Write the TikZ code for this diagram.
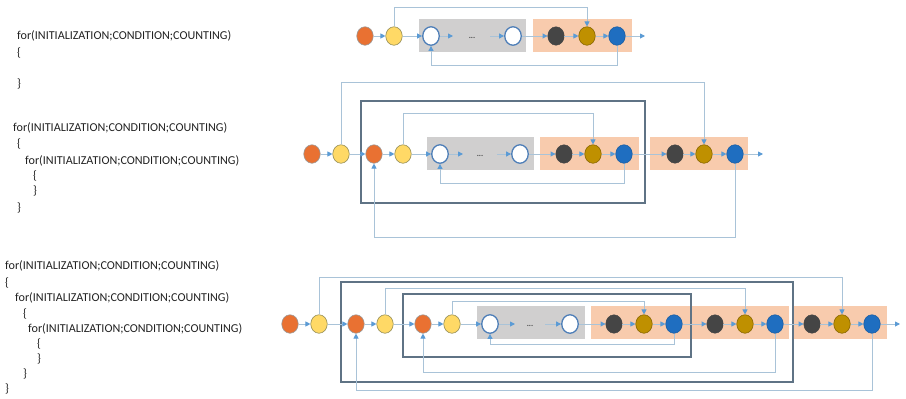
\documentclass[tikz,border=0pt]{standalone}
\usepackage{fontspec}
\setmainfont{Carlito}
\usetikzlibrary{arrows.meta,shapes.geometric}
\definecolor{corange}{HTML}{E97132}
\definecolor{cyellow}{HTML}{FFD966}
\definecolor{cgold}{HTML}{BF9000}
\definecolor{cdark}{HTML}{454545}
\definecolor{cblue}{HTML}{1F6EC0}
\definecolor{cwb}{HTML}{4F7FB8}
\definecolor{grayb}{HTML}{D0CFCF}
\definecolor{orangeb}{HTML}{F8CBAD}
\definecolor{linec}{HTML}{A9C3D8}
\definecolor{arrowc}{HTML}{5B9BD5}
\definecolor{framec}{HTML}{5F7385}
\definecolor{textc}{HTML}{222222}
\tikzset{
  nd/.style={ellipse, minimum width=16.5pt, minimum height=18.5pt, inner sep=0pt},
  co/.style={nd, fill=corange, draw=gray!80, line width=0.6pt},
  cy/.style={nd, fill=cyellow, draw=gray!60!olive, line width=0.6pt},
  cw/.style={nd, fill=white, draw=cwb, line width=1.3pt},
  cd/.style={nd, fill=cdark, draw=cdark},
  cg/.style={nd, fill=cgold, draw=cgold!70!black, line width=0.6pt},
  cb/.style={nd, fill=cblue, draw=cblue!85!black, line width=0.6pt},
  fl/.style={draw=linec, line width=0.9pt, -{Triangle[length=5pt,width=5pt,color=arrowc]}},
  fr/.style={draw=framec, line width=1.4pt},
  gbox/.style={fill=grayb},
  obox/.style={fill=orangeb},
  txt/.style={anchor=base west, inner sep=0pt, font=\fontsize{12.1}{14}\selectfont, text=textc},
  dotsn/.style={inner sep=0pt, font=\fontsize{8}{9}\selectfont\bfseries, text=cdark}
}
\begin{document}
\begin{tikzpicture}[x=1pt,y=-1pt]
\useasboundingbox[fill=white] (0,0) rectangle (906,399);

% ---------- texts ----------
\node[txt] (t1a) at (17,39) {for(INITIALIZATION;CONDITION;COUNTING)};
\node[txt] (t1b) at (17,56) {\{};
\node[txt] (t1c) at (17,87) {\}};

\node[txt] (t2a) at (13,131) {for(INITIALIZATION;CONDITION;COUNTING)};
\node[txt] (t2b) at (17,147) {\{};
\node[txt] (t2c) at (25,164) {for(INITIALIZATION;CONDITION;COUNTING)};
\node[txt] (t2d) at (33,179) {\{};
\node[txt] (t2e) at (33,194) {\}};
\node[txt] (t2f) at (17,211) {\}};

\node[txt] (t3a) at (5,269) {for(INITIALIZATION;CONDITION;COUNTING)};
\node[txt] (t3b) at (5,286) {\{};
\node[txt] (t3c) at (15,301) {for(INITIALIZATION;CONDITION;COUNTING)};
\node[txt] (t3d) at (23,317) {\{};
\node[txt] (t3e) at (28,332) {for(INITIALIZATION;CONDITION;COUNTING)};
\node[txt] (t3f) at (37,347) {\{};
\node[txt] (t3g) at (37,362) {\}};
\node[txt] (t3h) at (23,377) {\}};
\node[txt] (t3i) at (5,392) {\}};

% ---------- boxes ----------
\fill[gbox] (419,19) rectangle (526,52);
\fill[obox] (533,19) rectangle (632,52);

\fill[gbox] (427,137) rectangle (534,170);
\fill[obox] (540,137) rectangle (639,170);
\fill[obox] (650,137) rectangle (748,170);

\fill[gbox] (477,306) rectangle (585,339);
\fill[obox] (591,306) rectangle (789,339);
\fill[obox] (793,306) rectangle (887,339);

% ---------- frames ----------
\draw[fr] (361,101) rectangle (645,203);
\draw[fr] (403,294) rectangle (691,357);
\draw[fr] (341,282) rectangle (793,382);

% ================= ROW 1 =================
\node[co] (ao) at (365,36) {};
\node[cy] (ay) at (394,36) {};
\node[cw] (aw1) at (431,36) {};
\node[cw] (aw2) at (513,36) {};
\node[cd] (ad) at (556,36) {};
\node[cg] (ag) at (587,36) {};
\node[cb] (ab) at (617,36) {};
\node[dotsn] (adots) at (472,38) {...};
\coordinate (ae1) at (453,36);
\coordinate (as2) at (490,36);
\coordinate (aend) at (645,36);
\coordinate (atop) at (0,7);
\coordinate (abot) at (0,65);
\draw[fl] (ao) -- (ay);
\draw[fl] (ay) -- (aw1);
\draw[fl] (aw1) -- (ae1);
\draw[fl] (as2) -- (aw2);
\draw[fl] (aw2) -- (ad);
\draw[fl] (ad) -- (ag);
\draw[fl] (ag) -- (ab);
\draw[fl] (ab) -- (aend);
\draw[fl] (ay.north) -- (ay.north |- atop) -| (ag.north);
\draw[fl] (ab.south) -- (ab.south |- abot) -| (aw1.south);

% ================= ROW 2 =================
\node[co] (bo1) at (312,154) {};
\node[cy] (by1) at (341,154) {};
\node[co] (bo2) at (374,154) {};
\node[cy] (by2) at (403,154) {};
\node[cw] (bw1) at (440,154) {};
\node[cw] (bw2) at (520,154) {};
\node[cd] (bd1) at (564,154) {};
\node[cg] (bg1) at (593,154) {};
\node[cb] (bb1) at (624,154) {};
\node[cd] (bd2) at (675,154) {};
\node[cg] (bg2) at (704,154) {};
\node[cb] (bb2) at (735,154) {};
\node[dotsn] (bdots) at (480,156) {...};
\coordinate (be1) at (463,154);
\coordinate (bs2) at (497,154);
\coordinate (bend) at (763,154);
\coordinate (btop1) at (0,113);
\coordinate (bbot1) at (0,183);
\coordinate (btop2) at (0,82);
\coordinate (bbot2) at (0,237);
\draw[fl] (bo1) -- (by1);
\draw[fl] (by1) -- (bo2);
\draw[fl] (bo2) -- (by2);
\draw[fl] (by2) -- (bw1);
\draw[fl] (bw1) -- (be1);
\draw[fl] (bs2) -- (bw2);
\draw[fl] (bw2) -- (bd1);
\draw[fl] (bd1) -- (bg1);
\draw[fl] (bg1) -- (bb1);
\draw[fl] (bb1) -- (bd2);
\draw[fl] (bd2) -- (bg2);
\draw[fl] (bg2) -- (bb2);
\draw[fl] (bb2) -- (bend);
\draw[fl] (by2.north) -- (by2.north |- btop1) -| (bg1.north);
\draw[fl] (bb1.south) -- (bb1.south |- bbot1) -| (bw1.south);
\draw[fl] (by1.north) -- (by1.north |- btop2) -| (bg2.north);
\draw[fl] (bb2.south) -- (bb2.south |- bbot2) -| (bo2.south);

% ================= ROW 3 =================
\node[co] (co1) at (290,324) {};
\node[cy] (cy1) at (319,324) {};
\node[co] (co2) at (356,324) {};
\node[cy] (cy2) at (385,324) {};
\node[co] (co3) at (423,324) {};
\node[cy] (cy3) at (452,324) {};
\node[cw] (cw1) at (490,324) {};
\node[cw] (cw2) at (570,324) {};
\node[cd] (cd1) at (614,324) {};
\node[cg] (cg1) at (644,324) {};
\node[cb] (cb1) at (674,324) {};
\node[cd] (cd2) at (715,324) {};
\node[cg] (cg2) at (745,324) {};
\node[cb] (cb2) at (775,324) {};
\node[cd] (cd3) at (812,324) {};
\node[cg] (cg3) at (842,324) {};
\node[cb] (cb3) at (872,324) {};
\node[dotsn] (cdots) at (530,326) {...};
\coordinate (ce1) at (515,324);
\coordinate (cs2) at (545,324);
\coordinate (cend) at (900,324);
\coordinate (ctop1) at (0,277);
\coordinate (cbot1) at (0,390);
\coordinate (ctop2) at (0,288);
\coordinate (cbot2) at (0,372);
\coordinate (ctop3) at (0,301);
\coordinate (cbot3) at (0,344);
\draw[fl] (co1) -- (cy1);
\draw[fl] (cy1) -- (co2);
\draw[fl] (co2) -- (cy2);
\draw[fl] (cy2) -- (co3);
\draw[fl] (co3) -- (cy3);
\draw[fl] (cy3) -- (cw1);
\draw[fl] (cw1) -- (ce1);
\draw[fl] (cs2) -- (cw2);
\draw[fl] (cw2) -- (cd1);
\draw[fl] (cd1) -- (cg1);
\draw[fl] (cg1) -- (cb1);
\draw[fl] (cb1) -- (cd2);
\draw[fl] (cd2) -- (cg2);
\draw[fl] (cg2) -- (cb2);
\draw[fl] (cb2) -- (cd3);
\draw[fl] (cd3) -- (cg3);
\draw[fl] (cg3) -- (cb3);
\draw[fl] (cb3) -- (cend);
\draw[fl] (cy1.north) -- (cy1.north |- ctop1) -| (cg3.north);
\draw[fl] (cb3.south) -- (cb3.south |- cbot1) -| (co2.south);
\draw[fl] (cy2.north) -- (cy2.north |- ctop2) -| (cg2.north);
\draw[fl] (cb2.south) -- (cb2.south |- cbot2) -| (co3.south);
\draw[fl] (cy3.north) -- (cy3.north |- ctop3) -| (cg1.north);
\draw[fl] (cb1.south) -- (cb1.south |- cbot3) -| (cw1.south);
\end{tikzpicture}
\end{document}
